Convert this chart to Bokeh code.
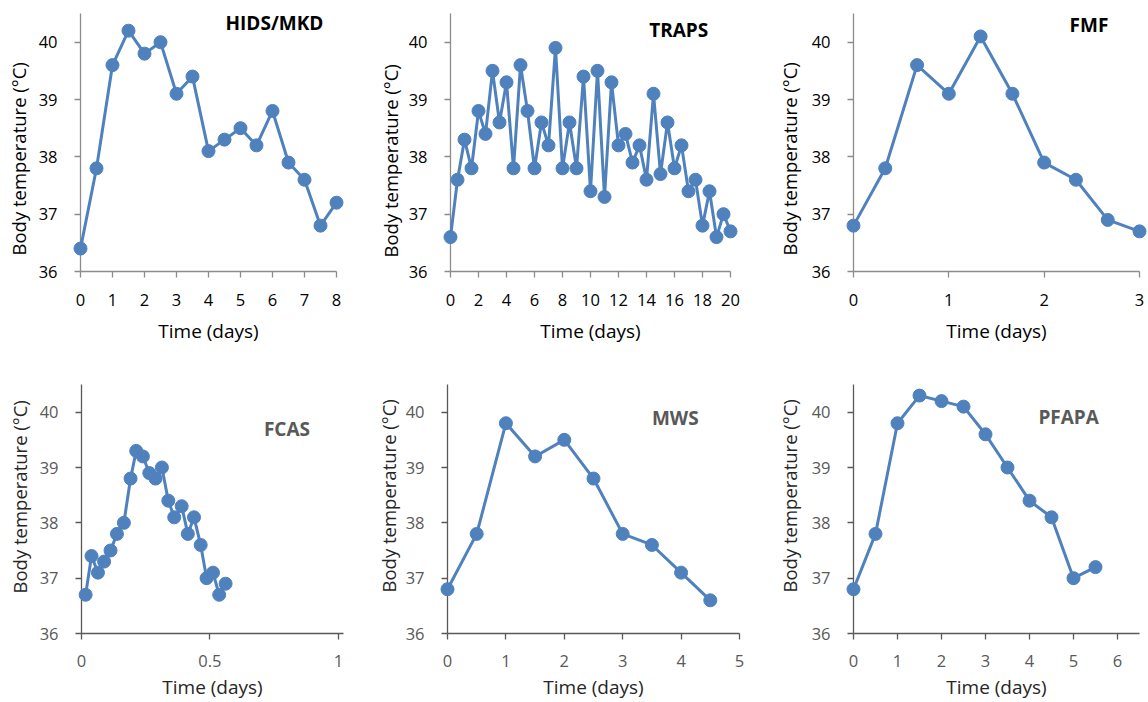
from bokeh.plotting import figure
from bokeh.layouts import column, row
from bokeh.models import FixedTicker, NumeralTickFormatter, Label, Range1d, Title
from bokeh.embed import file_html
from bokeh.resources import INLINE

# ---------------- data ----------------
Y_TICKS = [36, 37, 38, 39, 40]
Y_LABEL = "Body temperature (°C)"
X_LABEL = "Time (days)"

HIDS_TITLE = "HIDS/MKD"
HIDS_X = [0, 0.5, 1, 1.5, 2, 2.5, 3, 3.5, 4, 4.5, 5, 5.5, 6, 6.5, 7, 7.5, 8]
HIDS_Y = [36.4, 37.8, 39.6, 40.2, 39.8, 40.0, 39.1, 39.4, 38.1, 38.3, 38.5,
          38.2, 38.8, 37.9, 37.6, 36.8, 37.2]
HIDS_XTICKS = [0, 1, 2, 3, 4, 5, 6, 7, 8]

TRAPS_TITLE = "TRAPS"
TRAPS_X = [0, 0.5, 1, 1.5, 2, 2.5, 3, 3.5, 4, 4.5, 5, 5.5, 6, 6.5, 7, 7.5,
           8, 8.5, 9, 9.5, 10, 10.5, 11, 11.5, 12, 12.5, 13, 13.5, 14, 14.5,
           15, 15.5, 16, 16.5, 17, 17.5, 18, 18.5, 19, 19.5, 20]
TRAPS_Y = [36.6, 37.6, 38.3, 37.8, 38.8, 38.4, 39.5, 38.6, 39.3, 37.8, 39.6,
           38.8, 37.8, 38.6, 38.2, 39.9, 37.8, 38.6, 37.8, 39.4, 37.4, 39.5,
           37.3, 39.3, 38.2, 38.4, 37.9, 38.2, 37.6, 39.1, 37.7, 38.6, 37.8,
           38.2, 37.4, 37.6, 36.8, 37.4, 36.6, 37.0, 36.7]
TRAPS_XTICKS = [0, 2, 4, 6, 8, 10, 12, 14, 16, 18, 20]

FMF_TITLE = "FMF"
FMF_X = [0, 0.333, 0.667, 1, 1.333, 1.667, 2, 2.333, 2.667, 3]
FMF_Y = [36.8, 37.8, 39.6, 39.1, 40.1, 39.1, 37.9, 37.6, 36.9, 36.7]
FMF_XTICKS = [0, 1, 2, 3]

FCAS_TITLE = "FCAS"
FCAS_X = [0.016, 0.039, 0.064, 0.088, 0.113, 0.138, 0.165, 0.191, 0.213,
          0.239, 0.264, 0.288, 0.313, 0.338, 0.361, 0.390, 0.414, 0.438,
          0.464, 0.487, 0.512, 0.536, 0.561]
FCAS_Y = [36.7, 37.4, 37.1, 37.3, 37.5, 37.8, 38.0, 38.8, 39.3, 39.2, 38.9,
          38.8, 39.0, 38.4, 38.1, 38.3, 37.8, 38.1, 37.6, 37.0, 37.1, 36.7,
          36.9]
FCAS_XTICKS = [0, 0.5, 1]

MWS_TITLE = "MWS"
MWS_X = [0, 0.5, 1, 1.5, 2, 2.5, 3, 3.5, 4, 4.5]
MWS_Y = [36.8, 37.8, 39.8, 39.2, 39.5, 38.8, 37.8, 37.6, 37.1, 36.6]
MWS_XTICKS = [0, 1, 2, 3, 4, 5]

PFAPA_TITLE = "PFAPA"
PFAPA_X = [0, 0.5, 1, 1.5, 2, 2.5, 3, 3.5, 4, 4.5, 5, 5.5]
PFAPA_Y = [36.8, 37.8, 39.8, 40.3, 40.2, 40.1, 39.6, 39.0, 38.4, 38.1, 37.0,
           37.2]
PFAPA_XTICKS = [0, 1, 2, 3, 4, 5, 6]

# ---------------- style ----------------
BLUE = "#4F81BD"
FONT = "Open Sans"
TOP = dict(tick="#000000", axis="#8c8c8c", label="#000000", title="#000000")
BOT = dict(tick="#595959", axis="#595959", label="#262626", title="#595959")


def panel(title, xs, ys, xticks, x_end, w, h, bl, br, bt, bb, sty,
          title_xy, tick_std, xstand, ylab_standoff, ylab_offset):
    p = figure(width=w, height=h, x_range=Range1d(0, x_end),
               y_range=Range1d(36, 40.5), output_backend="svg",
               toolbar_location=None, min_border=0,
               min_border_left=bl, min_border_right=br,
               min_border_top=bt, min_border_bottom=bb)
    p.outline_line_color = None
    p.grid.visible = False
    p.background_fill_color = "white"
    p.border_fill_color = "white"

    for ax in (p.xaxis[0], p.yaxis[0]):
        ax.axis_line_color = sty["axis"]
        ax.axis_line_width = 1.3
        ax.major_tick_line_color = sty["axis"]
        ax.major_tick_line_width = 1.3
        ax.major_tick_out = 6
        ax.major_tick_in = 0
        ax.minor_tick_line_color = None
        ax.major_label_text_font = FONT
        ax.major_label_text_font_size = "16.5px"
        ax.major_label_text_color = sty["tick"]
        ax.axis_label_text_font = FONT
        ax.axis_label_text_font_style = "normal"
        ax.axis_label_text_color = sty["label"]
    p.xaxis.ticker = FixedTicker(ticks=xticks)
    p.xaxis.formatter = NumeralTickFormatter(format="0.[0]")
    p.xaxis.major_label_standoff = tick_std
    p.xaxis.axis_label = X_LABEL
    p.xaxis.axis_label_text_font_size = "19px"
    p.xaxis.axis_label_standoff = xstand
    p.yaxis.ticker = FixedTicker(ticks=Y_TICKS)
    p.yaxis.major_label_standoff = 17

    # y-axis title, placed along the axis like the reference
    p.add_layout(Title(text=Y_LABEL, align="left", vertical_align="middle",
                       offset=ylab_offset, standoff=ylab_standoff,
                       text_font=FONT, text_font_size="18.5px",
                       text_font_style="normal", text_color=sty["label"]),
                 "left")

    p.line(xs, ys, line_color=BLUE, line_width=3, level="overlay")
    p.scatter(xs, ys, size=13, fill_color=BLUE, line_color=BLUE,
              level="overlay")

    p.add_layout(Label(x=title_xy[0], y=title_xy[1], text=title,
                       text_align="center", text_baseline="middle",
                       text_font=FONT, text_font_size="19px",
                       text_font_style="bold", text_color=sty["title"]))
    return p


a = panel(HIDS_TITLE, HIDS_X, HIDS_Y, HIDS_XTICKS, 8,
          372, 351, 80, 36, 13, 78, TOP, (6.06, 40.34), 16, 9, 7, 16)
b = panel(TRAPS_TITLE, TRAPS_X, TRAPS_Y, TRAPS_XTICKS, 20,
          394, 351, 78, 36, 5, 80, TOP, (16.3, 40.22), 16, 9, 4, 14)
c = panel(FMF_TITLE, FMF_X, FMF_Y, FMF_XTICKS, 3,
          382, 351, 87, 9, 11, 78, TOP, (2.47, 40.30), 16, 9, 12, 16)
d = panel(FCAS_TITLE, FCAS_X, FCAS_Y, FCAS_XTICKS, 1.02,
          372, 351, 81, 29, 20, 68, BOT, (0.80, 39.69), 15, 4, 8, 40)
e = panel(MWS_TITLE, MWS_X, MWS_Y, MWS_XTICKS, 5,
          394, 351, 75, 27, 32, 67, BOT, (3.90, 39.89), 15, 4, 2, 41)
f = panel(PFAPA_TITLE, PFAPA_X, PFAPA_Y, PFAPA_XTICKS, 6.5,
          382, 351, 87, 9, 33, 67, BOT, (4.89, 39.92), 15, 4, 12, 41)

layout = column(row(a, b, c), row(d, e, f))
open("out.html", "w").write(file_html(layout, INLINE))
